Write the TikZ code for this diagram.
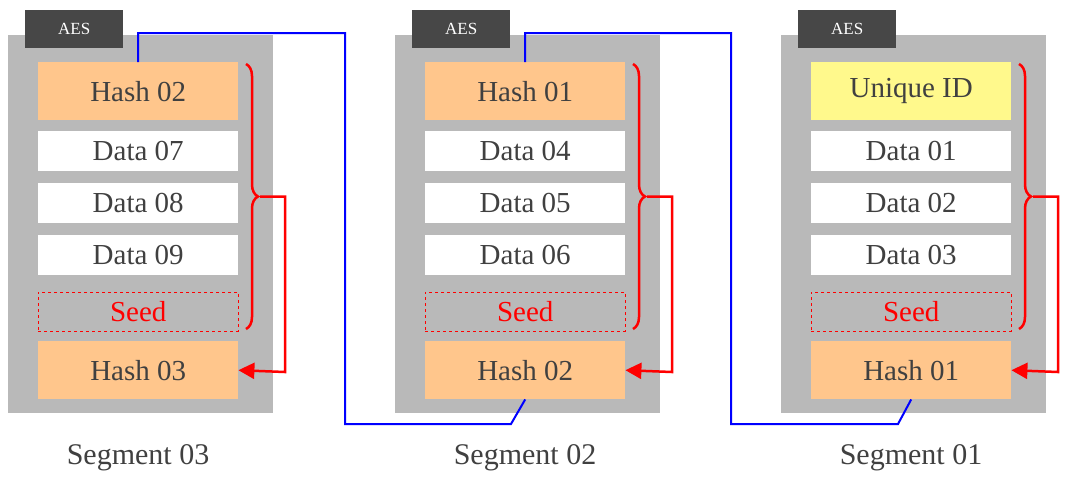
\documentclass[tikz,border=0pt]{standalone}
\usepackage{fontspec}
\setmainfont{Liberation Serif}
\usetikzlibrary{arrows.meta,decorations.pathreplacing,positioning}
\tikzset{
  seg/.style={fill=gray!55, draw=none, minimum width=265pt, minimum height=378pt, anchor=north west, inner sep=0pt},
  tab/.style={fill=black!72, text=white, minimum width=98pt, minimum height=38pt, anchor=north west, inner sep=0pt, font=\fontsize{17}{17}\selectfont, text depth=0pt},
  hashbox/.style={fill=orange!45, text=black!75, minimum width=200pt, minimum height=58pt, anchor=north west, inner sep=0pt, font=\fontsize{29}{30}\selectfont},
  idbox/.style={hashbox, fill=yellow!45},
  databox/.style={hashbox, fill=white, minimum height=40pt},
  seedbox/.style={hashbox, fill=none, draw=red, dashed, text=red, minimum height=39pt},
  chain/.style={draw=blue, line width=2pt},
  loop/.style={draw=red, line width=2.5pt, -{Triangle[length=16pt,width=16pt]}},
  segname/.style={text=black!75, font=\fontsize{30}{30}\selectfont}
}
\begin{document}
\begin{tikzpicture}[x=1pt, y=-1pt]
  \useasboundingbox (0,0) rectangle (1070,483);
  \foreach \s/\dx/\top/\da/\db/\dc/\bot/\topstyle in
      {3/0/Hash 02/07/08/09/Hash 03/hashbox,
       2/387/Hash 01/04/05/06/Hash 02/hashbox,
       1/773/Unique ID/01/02/03/Hash 01/idbox} {
    \node[seg] (g\s) at (8+\dx,35) {};
    \node[tab] (aes\s) at (25+\dx,10) {AES};
    \node[\topstyle] (t\s) at (38+\dx,62) {\top};
    \node[databox] (a\s) at (38+\dx,131) {Data \da};
    \node[databox] (b\s) at (38+\dx,183) {Data \db};
    \node[databox] (c\s) at (38+\dx,235) {Data \dc};
    \node[seedbox] (sd\s) at (38+\dx,292) {Seed};
    \node[hashbox] (h\s) at (38+\dx,341) {\bot};
    \node[segname] (n\s) at (138+\dx,458) {Segment 0\s};
    % brace and feedback arrow
    \draw[red, line width=2.5pt, decoration={brace, amplitude=12pt}, decorate]
      (246+\dx,64) -- coordinate[pos=0.5, xshift=14pt] (br\s) (246+\dx,329);
    \draw[loop] (br\s) -| (285+\dx,372) -- (h\s.east);
  }
  % hash chain
  \draw[chain] (t3.north) |- (345,33) |- (511,424) -- (h2.south);
  \draw[chain] (t2.north) |- (731,33) |- (898,424) -- (h1.south);
\end{tikzpicture}
\end{document}
